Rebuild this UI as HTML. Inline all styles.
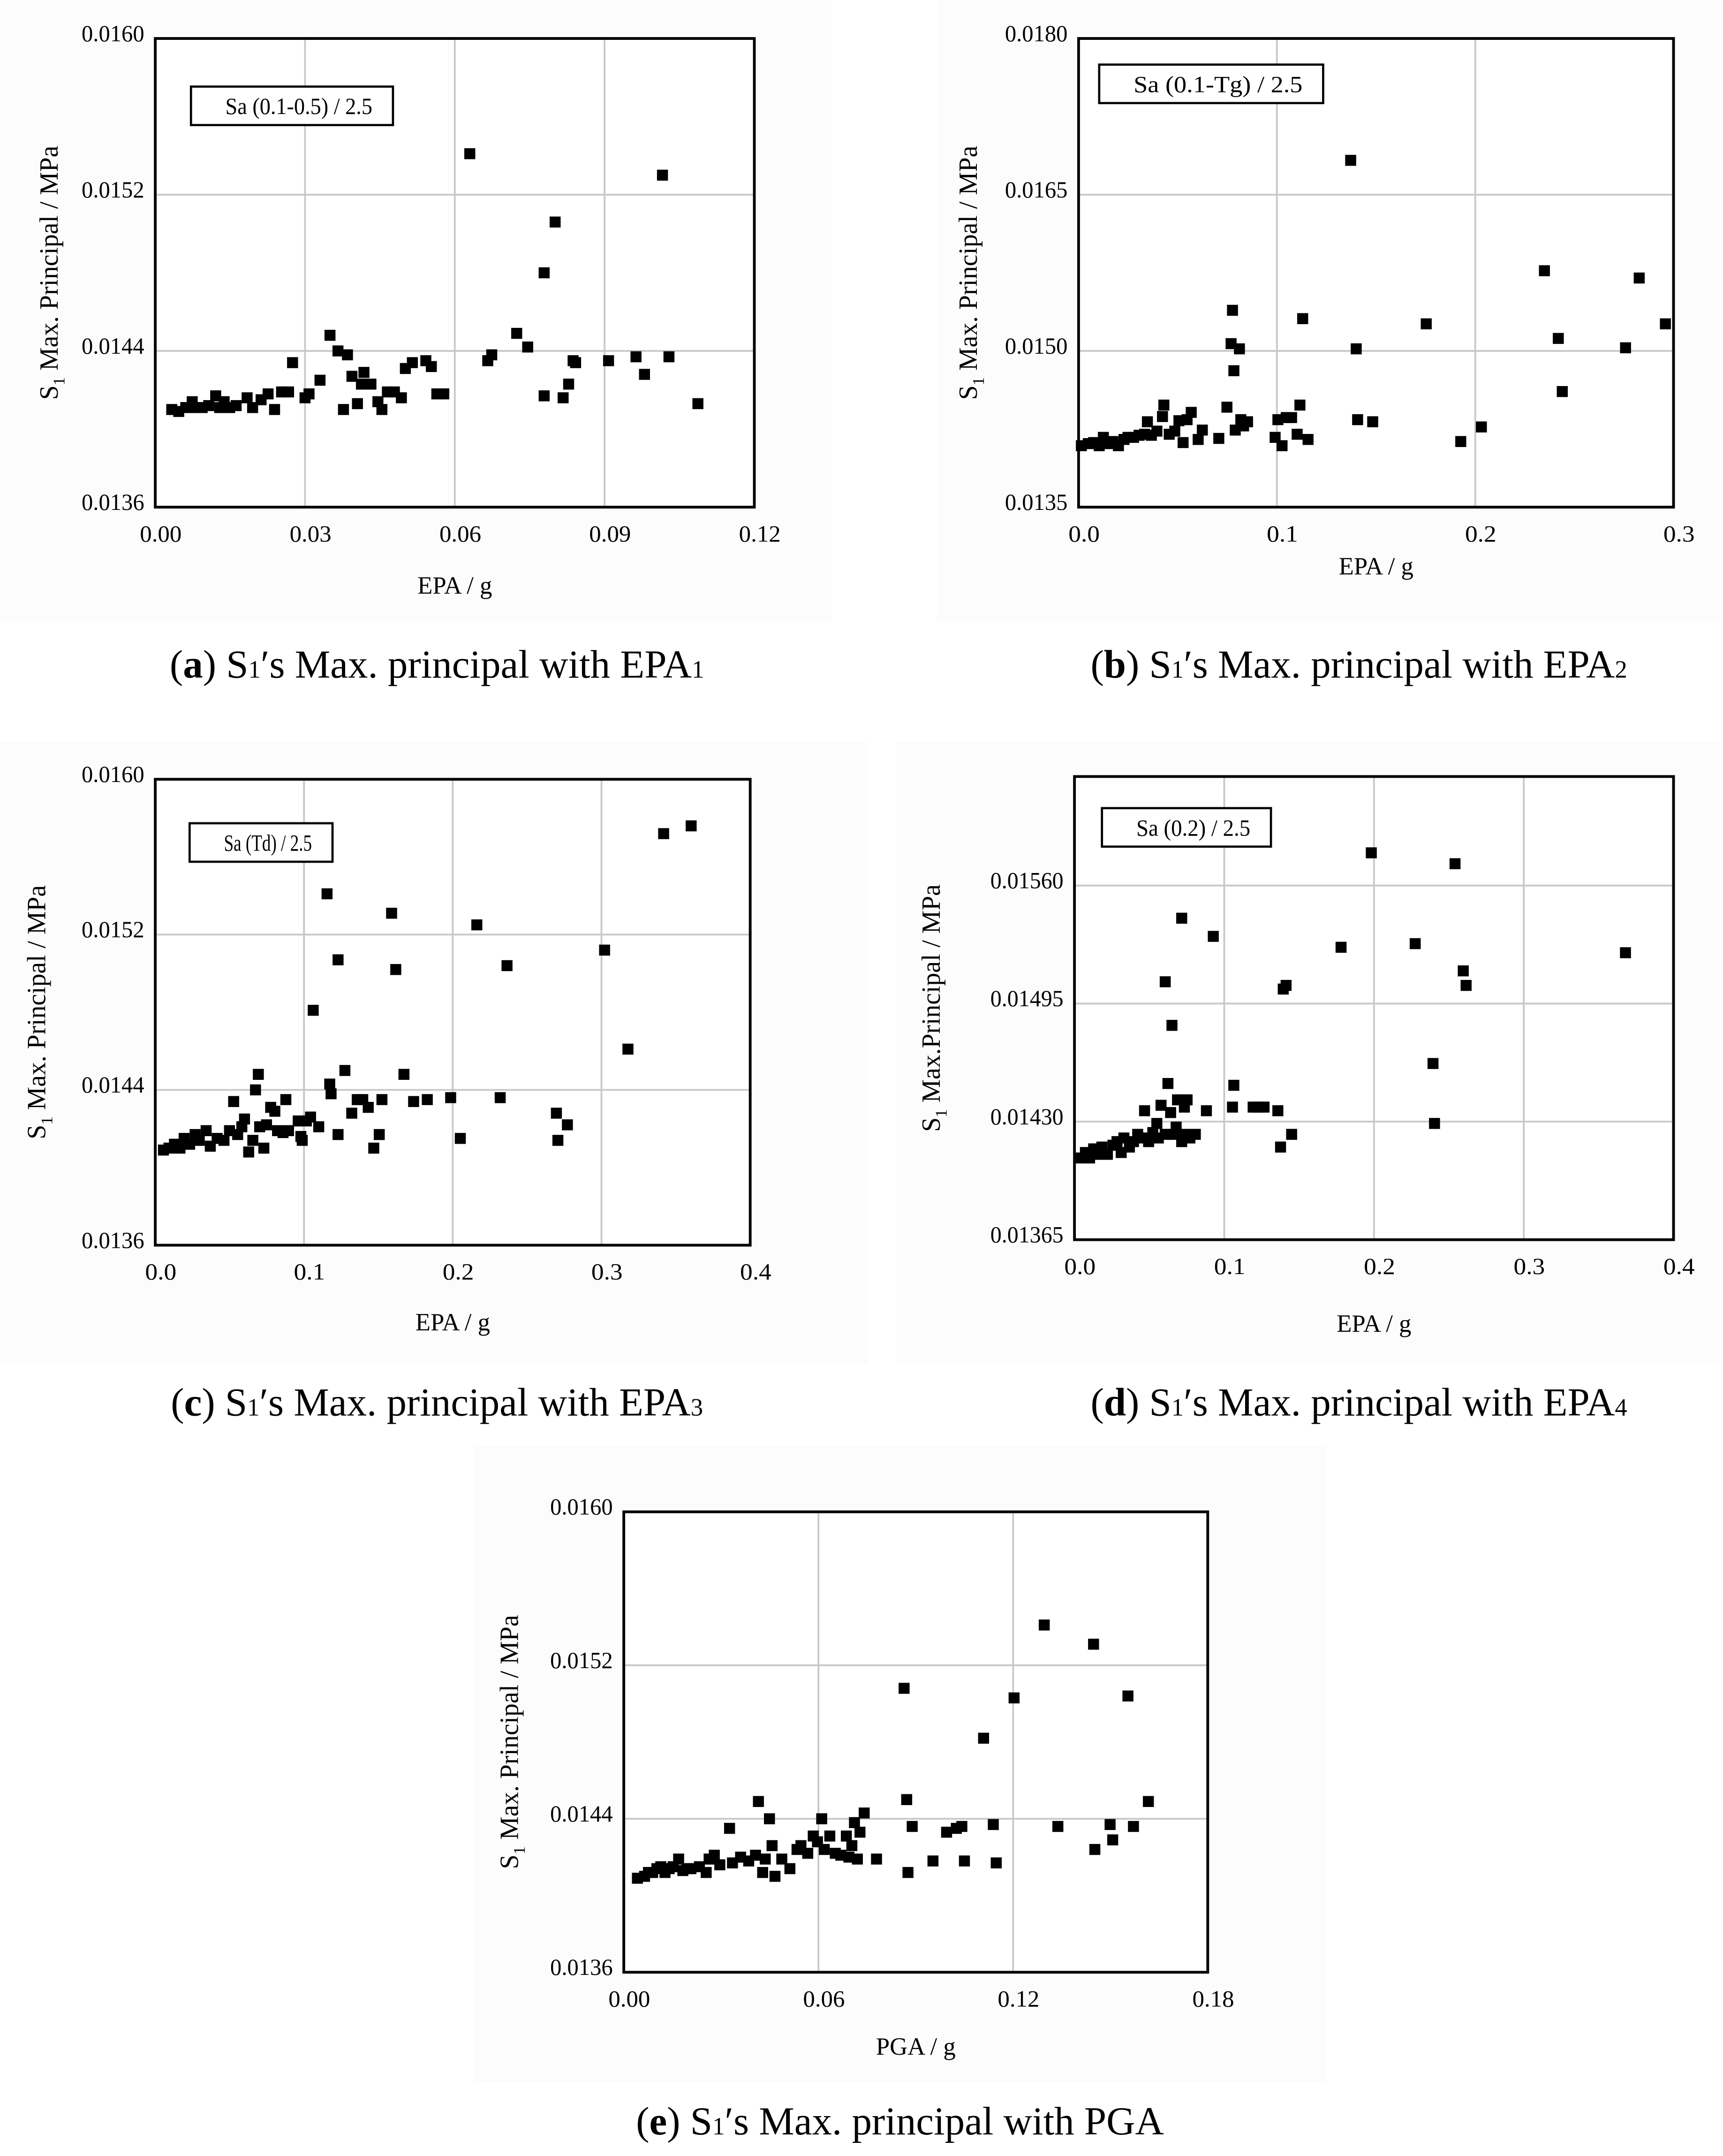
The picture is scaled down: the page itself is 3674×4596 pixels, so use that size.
<!DOCTYPE html>
<html><head><meta charset="utf-8"><style>
html,body{margin:0;padding:0;background:#fff;}
svg{display:block;}
text{font-family:"Liberation Serif",serif;fill:#000;}
</style></head><body>
<svg id="fig" width="3674" height="4596" viewBox="0 0 1254 1568.7" xmlns="http://www.w3.org/2000/svg">
<rect width="1254" height="1568.7" fill="#fff"/>
</svg>
<script>
// ---- data arrays ----
const aX=[0.0033,0.0047,0.0061,0.0074,0.0080,0.0094,0.0107,0.0121,0.0129,0.0138,0.0149,0.0162,0.0184,0.0195,0.0212,0.0226,0.0239,0.0253,0.0267,0.0275,0.0300,0.0308,0.0330,0.0350,0.0366,0.0377,0.0385,0.0394,0.0405,0.0413,0.0418,0.0432,0.0446,0.0454,0.0465,0.0479,0.0493,0.0501,0.0515,0.0542,0.0553,0.0564,0.0578,0.0630,0.0666,0.0674,0.0724,0.0746,0.0779,0.0779,0.0801,0.0817,0.0828,0.0837,0.0842,0.0908,0.0963,0.0980,0.1016,0.1029,0.1087];
const aY=[0.01410,0.01409,0.01411,0.01414,0.01411,0.01411,0.01412,0.01417,0.01411,0.01414,0.01411,0.01412,0.01416,0.01411,0.01415,0.01418,0.01410,0.01419,0.01419,0.01434,0.01416,0.01418,0.01425,0.01448,0.01440,0.01410,0.01438,0.01427,0.01413,0.01423,0.01429,0.01423,0.01414,0.01410,0.01419,0.01419,0.01416,0.01431,0.01434,0.01435,0.01432,0.01418,0.01418,0.01541,0.01435,0.01438,0.01449,0.01442,0.01417,0.01480,0.01506,0.01416,0.01423,0.01435,0.01434,0.01435,0.01437,0.01428,0.01530,0.01437,0.01413];
const bX=[0.0014,0.0049,0.0076,0.0104,0.0125,0.0146,0.0173,0.0201,0.0229,0.0249,0.0277,0.0305,0.0333,0.0347,0.0367,0.0395,0.0423,0.0430,0.0457,0.0485,0.0506,0.0527,0.0547,0.0568,0.0603,0.0624,0.0707,0.0748,0.0769,0.0776,0.0783,0.0790,0.0811,0.0818,0.0832,0.0852,0.0991,0.1005,0.1026,0.1047,0.1074,0.1102,0.1116,0.1130,0.1157,0.1372,0.1407,0.1400,0.1483,0.1753,0.1927,0.2031,0.2349,0.2419,0.2439,0.2758,0.2827,0.2959];
const bY=[0.01409,0.01411,0.01412,0.01409,0.01417,0.01411,0.01413,0.01409,0.01415,0.01417,0.01417,0.01419,0.01420,0.01432,0.01419,0.01423,0.01437,0.01448,0.01420,0.01423,0.01433,0.01412,0.01434,0.01441,0.01415,0.01424,0.01416,0.01446,0.01507,0.01539,0.01481,0.01424,0.01502,0.01434,0.01428,0.01432,0.01417,0.01434,0.01409,0.01436,0.01436,0.01420,0.01448,0.01531,0.01415,0.01683,0.01434,0.01502,0.01432,0.01526,0.01413,0.01427,0.01577,0.01512,0.01461,0.01503,0.01570,0.01526];
const cX=[0.0055,0.0092,0.0129,0.0166,0.0194,0.0231,0.0268,0.0296,0.0342,0.0370,0.0416,0.0462,0.0499,0.0527,0.0554,0.0582,0.0600,0.0628,0.0656,0.0674,0.0693,0.0702,0.0730,0.0748,0.0776,0.0804,0.0822,0.0859,0.0878,0.0896,0.0961,0.0979,0.0988,0.1016,0.1044,0.1062,0.1099,0.1155,0.1173,0.1182,0.1229,0.1229,0.1275,0.1321,0.1358,0.1395,0.1432,0.1469,0.1506,0.1524,0.1589,0.1617,0.1672,0.1737,0.1829,0.1986,0.2051,0.2162,0.2319,0.2365,0.2697,0.2707,0.2771,0.3021,0.3178,0.3418,0.3603];
const cY=[0.01409,0.01410,0.01412,0.01410,0.01415,0.01412,0.01417,0.01414,0.01419,0.01411,0.01415,0.01414,0.01419,0.01434,0.01417,0.01421,0.01425,0.01408,0.01414,0.01440,0.01448,0.01421,0.01410,0.01422,0.01431,0.01429,0.01419,0.01418,0.01435,0.01419,0.01424,0.01416,0.01414,0.01424,0.01426,0.01481,0.01421,0.01541,0.01443,0.01438,0.01417,0.01507,0.01450,0.01428,0.01435,0.01435,0.01431,0.01410,0.01417,0.01435,0.01531,0.01502,0.01448,0.01434,0.01435,0.01436,0.01415,0.01525,0.01436,0.01504,0.01428,0.01414,0.01422,0.01512,0.01461,0.01572,0.01576];
const dX=[0.0046,0.0073,0.0101,0.0128,0.0156,0.0183,0.0220,0.0257,0.0284,0.0312,0.0330,0.0367,0.0394,0.0422,0.0450,0.0468,0.0495,0.0523,0.0550,0.0560,0.0578,0.0606,0.0624,0.0642,0.0661,0.0679,0.0688,0.0716,0.0734,0.0752,0.0771,0.0807,0.0881,0.0716,0.0927,0.1055,0.1064,0.1193,0.1229,0.1266,0.1358,0.1376,0.1394,0.1413,0.1450,0.1780,0.1982,0.2275,0.2394,0.2404,0.2541,0.2596,0.2615,0.3679,0.0606,0.0651,0.0734];
const dY=[0.01410,0.01413,0.01410,0.01415,0.01412,0.01416,0.01412,0.01417,0.01419,0.01413,0.01421,0.01416,0.01419,0.01423,0.01421,0.01436,0.01419,0.01424,0.01429,0.01421,0.01439,0.01423,0.01451,0.01435,0.01423,0.01427,0.01442,0.01419,0.01423,0.01442,0.01421,0.01423,0.01436,0.01542,0.01532,0.01438,0.01450,0.01438,0.01438,0.01438,0.01436,0.01416,0.01503,0.01505,0.01423,0.01526,0.01578,0.01528,0.01462,0.01429,0.01572,0.01513,0.01505,0.01523,0.01507,0.01483,0.01438];
const eX=[0.0042,0.0064,0.0076,0.0089,0.0102,0.0114,0.0127,0.0140,0.0152,0.0169,0.0182,0.0195,0.0207,0.0233,0.0254,0.0263,0.0279,0.0296,0.0326,0.0335,0.0360,0.0385,0.0406,0.0415,0.0428,0.0436,0.0449,0.0457,0.0466,0.0487,0.0512,0.0534,0.0546,0.0567,0.0584,0.0597,0.0610,0.0618,0.0635,0.0652,0.0669,0.0686,0.0694,0.0703,0.0711,0.0720,0.0728,0.0741,0.0779,0.0864,0.0872,0.0876,0.0889,0.0953,0.0995,0.1025,0.1042,0.1050,0.1109,0.1139,0.1148,0.1203,0.1296,0.1338,0.1448,0.1452,0.1499,0.1507,0.1554,0.1571,0.1617];
const eY=[0.01409,0.01410,0.01412,0.01412,0.01414,0.01415,0.01412,0.01414,0.01415,0.01419,0.01413,0.01414,0.01414,0.01415,0.01412,0.01419,0.01421,0.01416,0.01435,0.01417,0.01420,0.01418,0.01421,0.01449,0.01412,0.01419,0.01440,0.01426,0.01410,0.01419,0.01414,0.01424,0.01426,0.01422,0.01431,0.01428,0.01440,0.01424,0.01431,0.01422,0.01421,0.01431,0.01420,0.01426,0.01438,0.01419,0.01433,0.01443,0.01419,0.01508,0.01450,0.01412,0.01436,0.01418,0.01433,0.01435,0.01436,0.01418,0.01482,0.01437,0.01417,0.01503,0.01541,0.01436,0.01531,0.01424,0.01437,0.01429,0.01504,0.01436,0.01449];
const aXTicks=["0.00","0.03","0.06","0.09","0.12"], aYTicks=["0.0136","0.0144","0.0152","0.0160"];
const bXTicks=["0.0","0.1","0.2","0.3"], bYTicks=["0.0135","0.0150","0.0165","0.0180"];
const cXTicks=["0.0","0.1","0.2","0.3","0.4"], cYTicks=["0.0136","0.0144","0.0152","0.0160"];
const dXTicks=["0.0","0.1","0.2","0.3","0.4"], dYTicks=["0.01365","0.01430","0.01495","0.01560"];
const eXTicks=["0.00","0.06","0.12","0.18"], eYTicks=["0.0136","0.0144","0.0152","0.0160"];

const NS="http://www.w3.org/2000/svg";
const svg=document.getElementById('fig');
function mk(tag,attrs,parent,txt){const e=document.createElementNS(NS,tag);for(const k in attrs)e.setAttribute(k,attrs[k]);if(txt!=null)e.textContent=txt;(parent||svg).appendChild(e);return e;}

function chart(o,xs,ys,xt,yt){
  const g=mk('g',{});
  
  
  const bg=mk('rect',{x:o.bg[0],y:o.bg[1],width:o.bg[2],height:o.bg[3],fill:'#fcfcfc'},g);
  
  
  const sx=v=>o.L+(v-o.x0)/(o.x1-o.x0)*(o.R-o.L);
  const sy=v=>o.B-(v-o.y0)/(o.y1-o.y0)*(o.B-o.T);
  mk('rect',{x:o.L,y:o.T,width:o.R-o.L,height:o.B-o.T,fill:'#fff'},g);
  xt.forEach(t=>{const v=parseFloat(t);const x=sx(v);
    if(x>o.L+2&&x<o.R-2){const l=mk('line',{x1:x,x2:x,y1:o.T,y2:o.B,stroke:'#c8c8c8','stroke-width':1.3},g);}
    const tx=mk('text',{x:x+4,y:o.B+25,'font-size':17,'text-anchor':'middle',textLength:t.length*7.6,lengthAdjust:'spacingAndGlyphs'},g,t);
    });
  yt.forEach(t=>{const v=parseFloat(t);const y=sy(v);
    if(y>o.T+2&&y<o.B-2){const l=mk('line',{x1:o.L,x2:o.R,y1:y,y2:y,stroke:'#c8c8c8','stroke-width':1.3},g);}
    const tx=mk('text',{x:o.L-8,y:y+2,'font-size':17,'text-anchor':'end',textLength:t.length*7.6,lengthAdjust:'spacingAndGlyphs'},g,t);
    });
  const fr=mk('rect',{x:o.L,y:o.T,width:o.R-o.L,height:o.B-o.T,fill:'none',stroke:'#000','stroke-width':2},g);
  
  xs.forEach((xv,i)=>{const r=mk('rect',{x:sx(xv)-4,y:sy(ys[i])-4,width:8,height:8,fill:'#000'},g);
    });
  const lg=mk('g',{},g);
  
  mk('rect',{x:o.leg[0],y:o.leg[1],width:o.leg[2],height:28,fill:'#fff',stroke:'#000','stroke-width':1.6},lg);
  mk('text',{x:o.leg[0]+o.leg[2]/2+5,y:o.leg[1]+20,'font-size':17,'text-anchor':'middle',textLength:o.leg[2]-40,lengthAdjust:'spacingAndGlyphs'},lg,o.legT);
  const xa=mk('text',{x:(o.L+o.R)/2,y:o.xlY,'font-size':18,'text-anchor':'middle'},g,o.xl);
  
  const ya=mk('text',{transform:`translate(${o.ylX},${(o.T+o.B)/2+o.ylOff}) rotate(-90)`,'font-size':19,'text-anchor':'middle'},g);
  
  mk('tspan',{},ya,'S');mk('tspan',{'font-size':12,dy:5},ya,'1');mk('tspan',{dy:-5},ya,o.ylT);
  const cp=mk('text',{x:o.cap[0],y:o.cap[1],'font-size':29,'text-anchor':'middle'},g);
  
  mk('tspan',{},cp,'(');mk('tspan',{'font-weight':'bold'},cp,o.letter);mk('tspan',{},cp,') S');
  mk('tspan',{'font-size':18},cp,'1');mk('tspan',{},cp,'′s Max. principal with '+o.capT);
  if(o.sub){mk('tspan',{'font-size':18},cp,o.sub);}
}
chart({name:'chart-a',bg:[0,0,605,452],L:113,R:549,T:28,B:369,x0:0,x1:0.12,y0:0.0136,y1:0.0160,leg:[139,63,147],legT:'Sa (0.1-0.5) / 2.5',xl:'EPA / g',xlY:432,ylX:42,ylOff:0,ylT:' Max. Principal / MPa',cap:[318,493],letter:'a',capT:'EPA',sub:'1'},aX,aY,aXTicks,aYTicks);
chart({name:'chart-b',bg:[682,0,570,452],L:785,R:1218,T:28,B:369,x0:0,x1:0.3,y0:0.0135,y1:0.0180,leg:[800,47,163],legT:'Sa (0.1-Tg) / 2.5',xl:'EPA / g',xlY:418,ylX:711,ylOff:0,ylT:' Max. Principal / MPa',cap:[989,493],letter:'b',capT:'EPA',sub:'2'},bX,bY,bXTicks,bYTicks);
chart({name:'chart-c',bg:[0,540,632,452],L:113,R:546,T:567,B:906,x0:0,x1:0.4,y0:0.0136,y1:0.0160,leg:[138,599,104],legT:'Sa (Td) / 2.5',xl:'EPA / g',xlY:968,ylX:33,ylOff:0,ylT:' Max. Principal / MPa',cap:[318,1030],letter:'c',capT:'EPA',sub:'3'},cX,cY,cXTicks,cYTicks);
chart({name:'chart-d',bg:[652,540,600,452],L:782,R:1218,T:565,B:902,x0:0,x1:0.4,y0:0.01365,y1:0.0162,leg:[802,588,123],legT:'Sa (0.2) / 2.5',xl:'EPA / g',xlY:969,ylX:684,ylOff:0,ylT:' Max.Principal / MPa',cap:[989,1030],letter:'d',capT:'EPA',sub:'4'},dX,dY,dXTicks,dYTicks);
chart({name:'chart-e',bg:[345,1052,620,463],L:454,R:879,T:1100,B:1435,x0:0,x1:0.18,y0:0.0136,y1:0.0160,leg:[-999,-999,10],legT:'',xl:'PGA / g',xlY:1495,ylX:377,ylOff:0,ylT:' Max. Principal / MPa',cap:[655,1553],letter:'e',capT:'PGA',sub:''},eX,eY,eXTicks,eYTicks);
</script>
</body></html>
